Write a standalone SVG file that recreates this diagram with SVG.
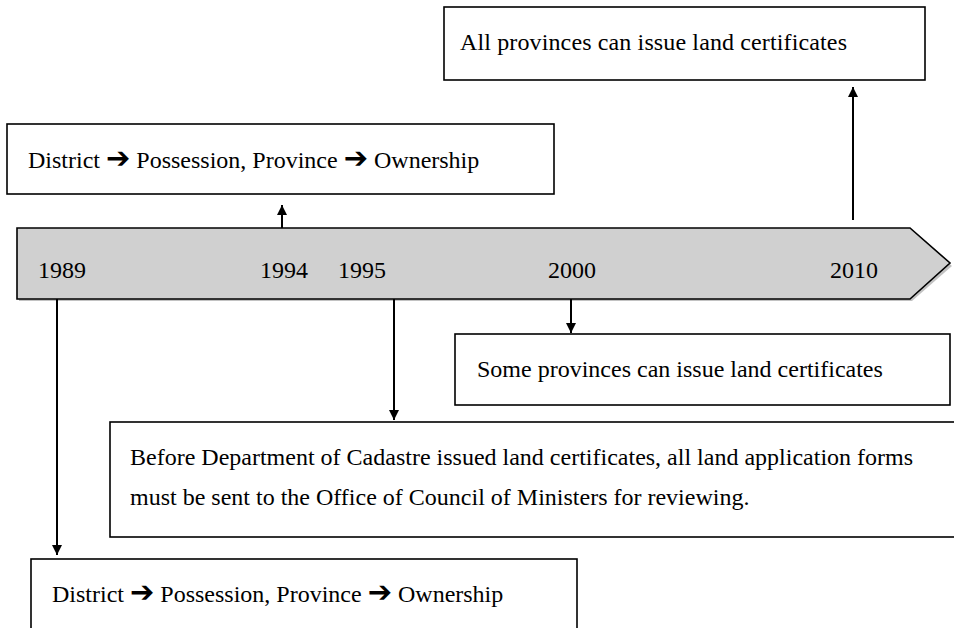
<svg xmlns="http://www.w3.org/2000/svg" width="954" height="628" viewBox="0 0 954 628">
<style>
  .box { fill: #ffffff; stroke: #000000; stroke-width: 1.6; }
  .txt { font-family: "Liberation Serif", "Times New Roman", serif; font-size: 24px; fill: #000000; }
  .arr { font-family: "DejaVu Sans", sans-serif; font-weight: bold; font-size: 29px; }
  .conn { stroke: #000000; stroke-width: 2; fill: none; marker-end: url(#ah); }
  .tl { fill: #d0d0d0; stroke: #000000; stroke-width: 1.6; }
</style>
<defs>
  <marker id="ah" viewBox="0 0 10 10" refX="10" refY="5" markerWidth="5" markerHeight="5.5" orient="auto" markerUnits="strokeWidth">
    <path d="M0,0 L10,5 L0,10 z" fill="#000000"/>
  </marker>
</defs>
<rect width="954" height="628" fill="#ffffff"/>

<g id="timeline">
  <polygon points="19,231 912,231 952,266 912,301 19,301" fill="#9a9a9a" opacity="0.6"/>
  <polygon class="tl" points="17,228 910,228 950,263 910,299 17,299"/>
  <text class="txt" x="38" y="278">1989</text>
  <text class="txt" x="260" y="278">1994</text>
  <text class="txt" x="338" y="278">1995</text>
  <text class="txt" x="548" y="278">2000</text>
  <text class="txt" x="830" y="278">2010</text>
</g>

<g id="box2010">
  <rect class="box" x="444" y="7" width="481" height="73"/>
  <text class="txt" x="460" y="50" textLength="387" lengthAdjust="spacing">All provinces can issue land certificates</text>
</g>

<g id="box1994">
  <rect class="box" x="7" y="124" width="547" height="70"/>
  <text class="txt" x="28" y="168">District <tspan class="arr">➔</tspan> Possession, Province <tspan class="arr">➔</tspan> Ownership</text>
</g>

<g id="box2000">
  <rect class="box" x="455" y="334" width="495" height="71"/>
  <text class="txt" x="477" y="377">Some provinces can issue land certificates</text>
</g>

<g id="box1995">
  <rect class="box" x="110" y="422" width="860" height="115"/>
  <text class="txt" x="130" y="465">Before Department of Cadastre issued land certificates, all land application forms</text>
  <text class="txt" x="130" y="505">must be sent to the Office of Council of Ministers for reviewing.</text>
</g>

<g id="box1989">
  <rect class="box" x="31" y="559" width="546" height="90"/>
  <text class="txt" x="52" y="602">District <tspan class="arr">➔</tspan> Possession, Province <tspan class="arr">➔</tspan> Ownership</text>
</g>

<g id="connectors">
  <line class="conn" x1="282" y1="228" x2="282" y2="205"/>
  <line class="conn" x1="853" y1="220" x2="853" y2="87"/>
  <line class="conn" x1="57" y1="299" x2="57" y2="555"/>
  <line class="conn" x1="394" y1="299" x2="394" y2="420"/>
  <line class="conn" x1="571" y1="299" x2="571" y2="333"/>
</g>
</svg>
